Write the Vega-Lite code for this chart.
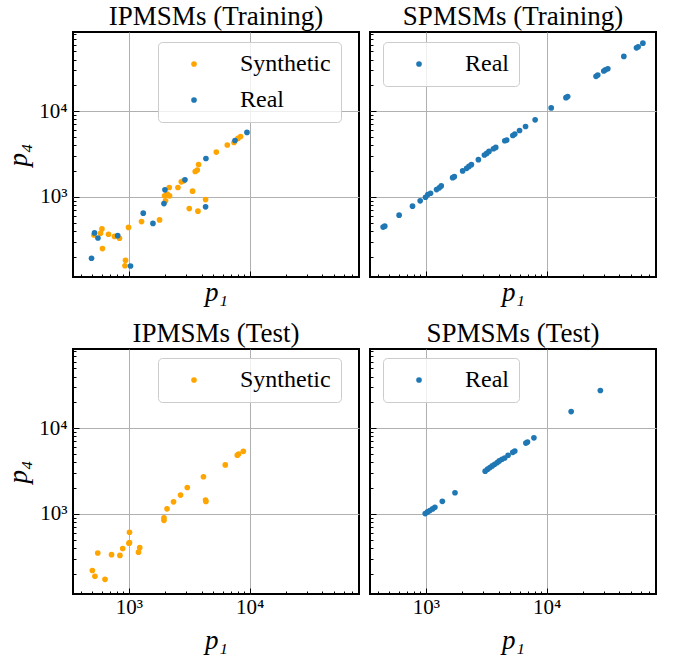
{
  "$schema": "https://vega.github.io/schema/vega-lite/v6.json",
  "background": "white",
  "padding": {"left": 3, "top": 2, "right": 5, "bottom": 5},
  "datasets": {
    "ipm_train": [
      {"p1": 8420, "p4": 5070, "type": "Synthetic"},
      {"p1": 8010, "p4": 4810, "type": "Synthetic"},
      {"p1": 7430, "p4": 4315, "type": "Synthetic"},
      {"p1": 6535, "p4": 4025, "type": "Synthetic"},
      {"p1": 5300, "p4": 3333, "type": "Synthetic"},
      {"p1": 3780, "p4": 2386, "type": "Synthetic"},
      {"p1": 3688, "p4": 2052, "type": "Synthetic"},
      {"p1": 3548, "p4": 1977, "type": "Synthetic"},
      {"p1": 2718, "p4": 1497, "type": "Synthetic"},
      {"p1": 2838, "p4": 1539, "type": "Synthetic"},
      {"p1": 2551, "p4": 1285, "type": "Synthetic"},
      {"p1": 2161, "p4": 1285, "type": "Synthetic"},
      {"p1": 2080, "p4": 1076, "type": "Synthetic"},
      {"p1": 2174, "p4": 1027, "type": "Synthetic"},
      {"p1": 1977, "p4": 1027, "type": "Synthetic"},
      {"p1": 2014, "p4": 898, "type": "Synthetic"},
      {"p1": 3370, "p4": 1166, "type": "Synthetic"},
      {"p1": 4320, "p4": 930, "type": "Synthetic"},
      {"p1": 3165, "p4": 730, "type": "Synthetic"},
      {"p1": 3736, "p4": 680, "type": "Synthetic"},
      {"p1": 1796, "p4": 538, "type": "Synthetic"},
      {"p1": 1274, "p4": 514, "type": "Synthetic"},
      {"p1": 995, "p4": 440, "type": "Synthetic"},
      {"p1": 599, "p4": 422, "type": "Synthetic"},
      {"p1": 514, "p4": 359, "type": "Synthetic"},
      {"p1": 583, "p4": 376, "type": "Synthetic"},
      {"p1": 679, "p4": 366, "type": "Synthetic"},
      {"p1": 761, "p4": 345, "type": "Synthetic"},
      {"p1": 837, "p4": 329, "type": "Synthetic"},
      {"p1": 605, "p4": 249, "type": "Synthetic"},
      {"p1": 939, "p4": 182, "type": "Synthetic"},
      {"p1": 929, "p4": 157, "type": "Synthetic"},
      {"p1": 9510, "p4": 5650, "type": "Real"},
      {"p1": 7570, "p4": 4550, "type": "Real"},
      {"p1": 4350, "p4": 2805, "type": "Real"},
      {"p1": 2915, "p4": 1580, "type": "Real"},
      {"p1": 1991, "p4": 1208, "type": "Real"},
      {"p1": 1954, "p4": 835, "type": "Real"},
      {"p1": 4320, "p4": 764, "type": "Real"},
      {"p1": 1584, "p4": 490, "type": "Real"},
      {"p1": 1316, "p4": 645, "type": "Real"},
      {"p1": 520, "p4": 379, "type": "Real"},
      {"p1": 555, "p4": 331, "type": "Real"},
      {"p1": 809, "p4": 352, "type": "Real"},
      {"p1": 491, "p4": 192, "type": "Real"},
      {"p1": 1033, "p4": 156, "type": "Real"}
    ],
    "spm_train": [
      {"p1": 443, "p4": 444, "type": "Real"},
      {"p1": 457, "p4": 455, "type": "Real"},
      {"p1": 601, "p4": 611, "type": "Real"},
      {"p1": 776, "p4": 778, "type": "Real"},
      {"p1": 898, "p4": 898, "type": "Real"},
      {"p1": 994, "p4": 989, "type": "Real"},
      {"p1": 1039, "p4": 1063, "type": "Real"},
      {"p1": 1094, "p4": 1101, "type": "Real"},
      {"p1": 1227, "p4": 1216, "type": "Real"},
      {"p1": 1292, "p4": 1273, "type": "Real"},
      {"p1": 1342, "p4": 1342, "type": "Real"},
      {"p1": 1667, "p4": 1676, "type": "Real"},
      {"p1": 1721, "p4": 1722, "type": "Real"},
      {"p1": 2018, "p4": 2006, "type": "Real"},
      {"p1": 2178, "p4": 2151, "type": "Real"},
      {"p1": 2276, "p4": 2268, "type": "Real"},
      {"p1": 2383, "p4": 2375, "type": "Real"},
      {"p1": 2724, "p4": 2715, "type": "Real"},
      {"p1": 3055, "p4": 3078, "type": "Real"},
      {"p1": 3192, "p4": 3214, "type": "Real"},
      {"p1": 3336, "p4": 3390, "type": "Real"},
      {"p1": 3630, "p4": 3645, "type": "Real"},
      {"p1": 3793, "p4": 3775, "type": "Real"},
      {"p1": 4506, "p4": 4515, "type": "Real"},
      {"p1": 4677, "p4": 4600, "type": "Real"},
      {"p1": 5250, "p4": 5200, "type": "Real"},
      {"p1": 5455, "p4": 5404, "type": "Real"},
      {"p1": 5970, "p4": 5945, "type": "Real"},
      {"p1": 6695, "p4": 6620, "type": "Real"},
      {"p1": 8037, "p4": 7925, "type": "Real"},
      {"p1": 10920, "p4": 10920, "type": "Real"},
      {"p1": 14460, "p4": 14390, "type": "Real"},
      {"p1": 14940, "p4": 14790, "type": "Real"},
      {"p1": 25660, "p4": 25530, "type": "Real"},
      {"p1": 26530, "p4": 26420, "type": "Real"},
      {"p1": 29740, "p4": 29420, "type": "Real"},
      {"p1": 30690, "p4": 30460, "type": "Real"},
      {"p1": 32120, "p4": 31290, "type": "Real"},
      {"p1": 43600, "p4": 43600, "type": "Real"},
      {"p1": 55470, "p4": 54900, "type": "Real"},
      {"p1": 57300, "p4": 56370, "type": "Real"},
      {"p1": 62700, "p4": 62250, "type": "Real"}
    ],
    "ipm_test": [
      {"p1": 8870, "p4": 5365, "type": "Synthetic"},
      {"p1": 8110, "p4": 5000, "type": "Synthetic"},
      {"p1": 7910, "p4": 4842, "type": "Synthetic"},
      {"p1": 6290, "p4": 3727, "type": "Synthetic"},
      {"p1": 4150, "p4": 2712, "type": "Synthetic"},
      {"p1": 3048, "p4": 2032, "type": "Synthetic"},
      {"p1": 2681, "p4": 1655, "type": "Synthetic"},
      {"p1": 2345, "p4": 1382, "type": "Synthetic"},
      {"p1": 2072, "p4": 1144, "type": "Synthetic"},
      {"p1": 1954, "p4": 898, "type": "Synthetic"},
      {"p1": 1954, "p4": 840, "type": "Synthetic"},
      {"p1": 4318, "p4": 1447, "type": "Synthetic"},
      {"p1": 4350, "p4": 1393, "type": "Synthetic"},
      {"p1": 1013, "p4": 610, "type": "Synthetic"},
      {"p1": 1013, "p4": 461, "type": "Synthetic"},
      {"p1": 1002, "p4": 454, "type": "Synthetic"},
      {"p1": 1231, "p4": 403, "type": "Synthetic"},
      {"p1": 1203, "p4": 357, "type": "Synthetic"},
      {"p1": 890, "p4": 394, "type": "Synthetic"},
      {"p1": 844, "p4": 327, "type": "Synthetic"},
      {"p1": 719, "p4": 334, "type": "Synthetic"},
      {"p1": 553, "p4": 349, "type": "Synthetic"},
      {"p1": 499, "p4": 218, "type": "Synthetic"},
      {"p1": 524, "p4": 187, "type": "Synthetic"},
      {"p1": 635, "p4": 172, "type": "Synthetic"}
    ],
    "spm_test": [
      {"p1": 15970, "p4": 15620, "type": "Real"},
      {"p1": 27860, "p4": 27560, "type": "Real"},
      {"p1": 7852, "p4": 7720, "type": "Real"},
      {"p1": 6950, "p4": 6880, "type": "Real"},
      {"p1": 6735, "p4": 6700, "type": "Real"},
      {"p1": 5455, "p4": 5410, "type": "Real"},
      {"p1": 5248, "p4": 5230, "type": "Real"},
      {"p1": 4797, "p4": 4828, "type": "Real"},
      {"p1": 4500, "p4": 4490, "type": "Real"},
      {"p1": 4272, "p4": 4337, "type": "Real"},
      {"p1": 4055, "p4": 4147, "type": "Real"},
      {"p1": 3904, "p4": 3963, "type": "Real"},
      {"p1": 3715, "p4": 3796, "type": "Real"},
      {"p1": 3548, "p4": 3630, "type": "Real"},
      {"p1": 3396, "p4": 3467, "type": "Real"},
      {"p1": 3248, "p4": 3321, "type": "Real"},
      {"p1": 3102, "p4": 3149, "type": "Real"},
      {"p1": 1744, "p4": 1765, "type": "Real"},
      {"p1": 1370, "p4": 1400, "type": "Real"},
      {"p1": 1189, "p4": 1192, "type": "Real"},
      {"p1": 1137, "p4": 1143, "type": "Real"},
      {"p1": 1080, "p4": 1092, "type": "Real"},
      {"p1": 1033, "p4": 1054, "type": "Real"},
      {"p1": 989, "p4": 1008, "type": "Real"}
    ]
  },
  "columns": 2,
  "spacing": {"row": 72, "column": 11},
  "bounds": "flush",
  "concat": [
    {
      "title": "IPMSMs (Training)",
      "width": 286, "height": 245,
      "data": {"name": "ipm_train"},
      "mark": {"type": "circle", "size": 32, "opacity": 1},
      "encoding": {
        "x": {"field": "p1", "type": "quantitative",
          "scale": {"type": "log", "domain": [345, 80500], "nice": false},
          "axis": {"values": [400,500,600,700,800,900,1000,2000,3000,4000,5000,6000,7000,8000,9000,10000,20000,30000,40000,50000,60000,70000,80000],
            "labels": false, "title": "p₁", "titlePadding": 2,
            "tickSize": {"condition": {"test": "datum.value == 1000 || datum.value == 10000", "value": -6}, "value": -3},
            "gridOpacity": {"condition": {"test": "datum.value == 1000 || datum.value == 10000", "value": 1}, "value": 0}}},
        "y": {"field": "p4", "type": "quantitative",
          "scale": {"type": "log", "domain": [116, 84000], "nice": false},
          "axis": {"values": [200,300,400,500,600,700,800,900,1000,2000,3000,4000,5000,6000,7000,8000,9000,10000,20000,30000,40000,50000,60000,70000,80000],
            "labelExpr": "datum.value == 1000 ? '10³' : datum.value == 10000 ? '10⁴' : ''",
            "labelFontSize": {"condition": {"test": "datum.value == 1000 || datum.value == 10000", "value": 21}, "value": 1},
            "labelOverlap": false, "labelFlush": false, "labelPadding": 12,
            "title": "p₄", "titlePadding": 6,
            "tickSize": {"condition": {"test": "datum.value == 1000 || datum.value == 10000", "value": -6}, "value": -3},
            "gridOpacity": {"condition": {"test": "datum.value == 1000 || datum.value == 10000", "value": 1}, "value": 0}}},
        "color": {"field": "type", "type": "nominal", "sort": null,
          "scale": {"domain": ["Synthetic", "Real"], "range": ["#ffa500", "#1f77b4"]},
          "legend": {"orient": "none", "legendX": 85, "legendY": 10}}
      }
    },
    {
      "title": "SPMSMs (Training)",
      "width": 286, "height": 245,
      "data": {"name": "spm_train"},
      "mark": {"type": "circle", "size": 32, "opacity": 1},
      "encoding": {
        "x": {"field": "p1", "type": "quantitative",
          "scale": {"type": "log", "domain": [345, 80500], "nice": false},
          "axis": {"values": [400,500,600,700,800,900,1000,2000,3000,4000,5000,6000,7000,8000,9000,10000,20000,30000,40000,50000,60000,70000,80000],
            "labels": false, "title": "p₁", "titlePadding": 2,
            "tickSize": {"condition": {"test": "datum.value == 1000 || datum.value == 10000", "value": -6}, "value": -3},
            "gridOpacity": {"condition": {"test": "datum.value == 1000 || datum.value == 10000", "value": 1}, "value": 0}}},
        "y": {"field": "p4", "type": "quantitative",
          "scale": {"type": "log", "domain": [116, 84000], "nice": false},
          "axis": {"values": [200,300,400,500,600,700,800,900,1000,2000,3000,4000,5000,6000,7000,8000,9000,10000,20000,30000,40000,50000,60000,70000,80000],
            "labels": false, "title": null,
            "tickSize": {"condition": {"test": "datum.value == 1000 || datum.value == 10000", "value": -6}, "value": -3},
            "gridOpacity": {"condition": {"test": "datum.value == 1000 || datum.value == 10000", "value": 1}, "value": 0}}},
        "color": {"field": "type", "type": "nominal",
          "scale": {"domain": ["Real"], "range": ["#1f77b4"]},
          "legend": {"orient": "none", "legendX": 13, "legendY": 10}}
      }
    },
    {
      "title": "IPMSMs (Test)",
      "width": 286, "height": 245,
      "data": {"name": "ipm_test"},
      "mark": {"type": "circle", "size": 32, "opacity": 1},
      "encoding": {
        "x": {"field": "p1", "type": "quantitative",
          "scale": {"type": "log", "domain": [345, 80500], "nice": false},
          "axis": {"values": [400,500,600,700,800,900,1000,2000,3000,4000,5000,6000,7000,8000,9000,10000,20000,30000,40000,50000,60000,70000,80000],
            "labelExpr": "datum.value == 1000 ? '10³' : datum.value == 10000 ? '10⁴' : ''",
            "labelOverlap": false, "labelFlush": false, "labelPadding": 8,
            "title": "p₁", "titlePadding": 7,
            "tickSize": {"condition": {"test": "datum.value == 1000 || datum.value == 10000", "value": -6}, "value": -3},
            "gridOpacity": {"condition": {"test": "datum.value == 1000 || datum.value == 10000", "value": 1}, "value": 0}}},
        "y": {"field": "p4", "type": "quantitative",
          "scale": {"type": "log", "domain": [116, 84000], "nice": false},
          "axis": {"values": [200,300,400,500,600,700,800,900,1000,2000,3000,4000,5000,6000,7000,8000,9000,10000,20000,30000,40000,50000,60000,70000,80000],
            "labelExpr": "datum.value == 1000 ? '10³' : datum.value == 10000 ? '10⁴' : ''",
            "labelFontSize": {"condition": {"test": "datum.value == 1000 || datum.value == 10000", "value": 21}, "value": 1},
            "labelOverlap": false, "labelFlush": false, "labelPadding": 12,
            "title": "p₄", "titlePadding": 6,
            "tickSize": {"condition": {"test": "datum.value == 1000 || datum.value == 10000", "value": -6}, "value": -3},
            "gridOpacity": {"condition": {"test": "datum.value == 1000 || datum.value == 10000", "value": 1}, "value": 0}}},
        "color": {"field": "type", "type": "nominal",
          "scale": {"domain": ["Synthetic"], "range": ["#ffa500"]},
          "legend": {"orient": "none", "legendX": 85, "legendY": 9}}
      }
    },
    {
      "title": "SPMSMs (Test)",
      "width": 286, "height": 245,
      "data": {"name": "spm_test"},
      "mark": {"type": "circle", "size": 32, "opacity": 1},
      "encoding": {
        "x": {"field": "p1", "type": "quantitative",
          "scale": {"type": "log", "domain": [345, 80500], "nice": false},
          "axis": {"values": [400,500,600,700,800,900,1000,2000,3000,4000,5000,6000,7000,8000,9000,10000,20000,30000,40000,50000,60000,70000,80000],
            "labelExpr": "datum.value == 1000 ? '10³' : datum.value == 10000 ? '10⁴' : ''",
            "labelOverlap": false, "labelFlush": false, "labelPadding": 8,
            "title": "p₁", "titlePadding": 7,
            "tickSize": {"condition": {"test": "datum.value == 1000 || datum.value == 10000", "value": -6}, "value": -3},
            "gridOpacity": {"condition": {"test": "datum.value == 1000 || datum.value == 10000", "value": 1}, "value": 0}}},
        "y": {"field": "p4", "type": "quantitative",
          "scale": {"type": "log", "domain": [116, 84000], "nice": false},
          "axis": {"values": [200,300,400,500,600,700,800,900,1000,2000,3000,4000,5000,6000,7000,8000,9000,10000,20000,30000,40000,50000,60000,70000,80000],
            "labels": false, "title": null,
            "tickSize": {"condition": {"test": "datum.value == 1000 || datum.value == 10000", "value": -6}, "value": -3},
            "gridOpacity": {"condition": {"test": "datum.value == 1000 || datum.value == 10000", "value": 1}, "value": 0}}},
        "color": {"field": "type", "type": "nominal",
          "scale": {"domain": ["Real"], "range": ["#1f77b4"]},
          "legend": {"orient": "none", "legendX": 13, "legendY": 9}}
      }
    }
  ],
  "resolve": {"scale": {"color": "independent"}, "legend": {"color": "independent"}},
  "config": {
    "font": "Liberation Serif",
    "view": {"stroke": "black", "strokeWidth": 2},
    "axis": {
      "domain": false, "grid": true, "gridColor": "#b0b0b0", "gridWidth": 1,
      "ticks": true, "tickColor": "black", "tickWidth": 1,
      "labelFont": "Liberation Serif", "labelFontSize": 21, "labelColor": "black",
      "titleFont": "Liberation Serif", "titleFontSize": 27, "titleFontStyle": "italic",
      "titleFontWeight": "normal", "titleColor": "black"
    },
    "title": {"font": "Liberation Serif", "fontSize": 27, "fontWeight": "normal", "color": "black", "offset": 1},
    "legend": {
      "title": null, "direction": "vertical",
      "fillColor": "rgba(255,255,255,0.8)", "strokeColor": "#cccccc", "cornerRadius": 4,
      "padding": 10, "symbolType": "circle", "symbolSize": 32, "symbolOffset": 14,
      "labelOffset": 34, "labelFont": "Liberation Serif", "labelFontSize": 24,
      "labelColor": "black", "rowPadding": 12, "symbolStrokeWidth": 0
    }
  }
}
